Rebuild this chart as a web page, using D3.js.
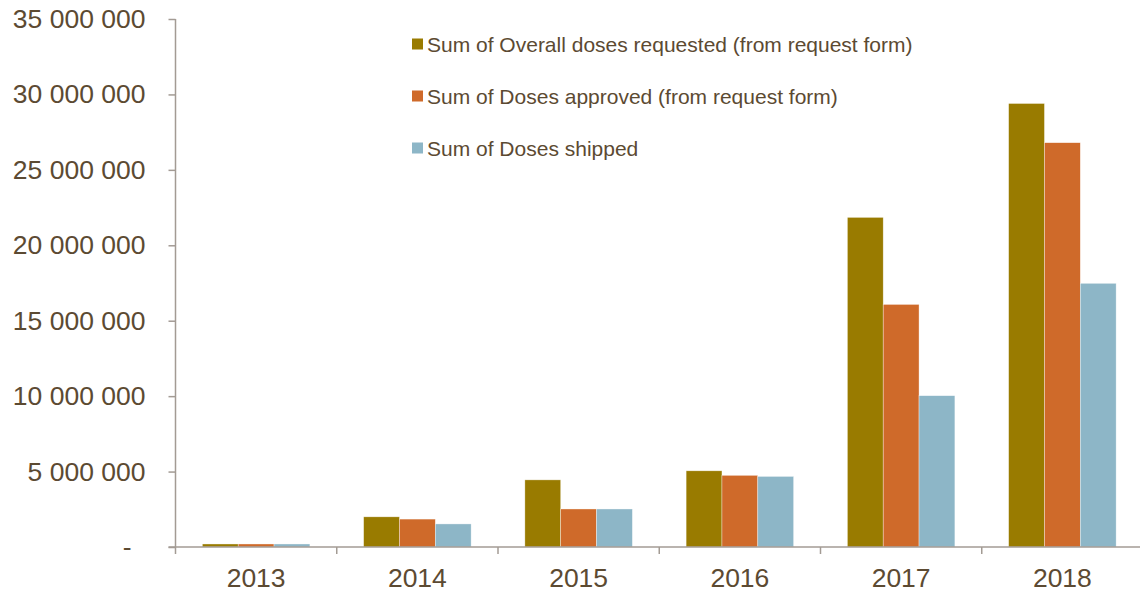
<!DOCTYPE html>
<html>
<head>
<meta charset="utf-8">
<script src="https://cdn.jsdelivr.net/npm/d3@7"></script>
<style>
  body { margin: 0; background: #fff; }
  text { font-family: "Liberation Sans", Arial, sans-serif; fill: #5c4a32; }
</style>
</head>
<body>
<div id="chart"></div>
<script>
'use strict';

var years = ['2013', '2014', '2015', '2016', '2017', '2018'];
var seriesNames = [
    'Sum of Overall doses requested (from request form)',
    'Sum of Doses approved (from request form)',
    'Sum of Doses shipped'
];
var requested = [200000, 2000000, 4450000, 5050000, 21850000, 29400000];
var approved  = [200000, 1850000, 2520000, 4750000, 16080000, 26800000];
var shipped   = [200000, 1530000, 2520000, 4680000, 10030000, 17480000];
var yTicks = [0, 5000000, 10000000, 15000000, 20000000, 25000000, 30000000, 35000000];

var colors = ['#997b00', '#cf6a2a', '#8db6c7'];
var axisColor = '#a39b94';

var chart = {};
chart.w = 1140;
chart.h = 593;
chart.left = 175.5;
chart.right = 1143;
chart.top = 19;
chart.base = 547;

var svg = d3.select('#chart').append('svg')
    .attr('width', chart.w)
    .attr('height', chart.h);

var x0 = d3.scaleBand().domain(years).range([chart.left, chart.right]).padding(0);
var x1 = d3.scaleBand().domain([0, 1, 2]).range([0, x0.bandwidth()])
    .paddingInner(0).paddingOuter(0.75);
var y = d3.scaleLinear().domain([0, 35000000]).range([chart.base, chart.top]);

var loc = d3.formatLocale({decimal: '.', thousands: ' ', grouping: [3], currency: ['', '']});
var fmt = loc.format(',');

// bars
var rows = years.map(function (yr, i) {
    return {year: yr, vals: [requested[i], approved[i], shipped[i]]};
});

var groups = svg.append('g').selectAll('g')
    .data(rows)
    .enter()
    .append('g')
    .attr('transform', function (d) { return 'translate(' + x0(d.year) + ',0)'; });

groups.selectAll('rect')
    .data(function (d) { return d.vals.map(function (v, k) { return {k: k, v: v}; }); })
    .enter()
    .append('rect')
    .attr('x', function (d) { return x1(d.k); })
    .attr('y', function (d) { return y(d.v); })
    .attr('width', x1.bandwidth())
    .attr('height', function (d) { return chart.base - y(d.v); })
    .attr('fill', function (d) { return colors[d.k]; })
    .attr('stroke', '#fff')
    .attr('stroke-opacity', 0.6)
    .attr('stroke-width', 0.6);

// y axis
var yAxis = d3.axisLeft(y).tickValues(yTicks).tickSize(7).tickPadding(23)
    .tickFormat(function (d) { return d === 0 ? '-' : fmt(d); });
var yg = svg.append('g')
    .attr('transform', 'translate(' + chart.left + ',0)')
    .call(yAxis);
yg.select('.domain').remove();
yg.selectAll('line').attr('stroke', axisColor).attr('stroke-width', 1.5);
yg.selectAll('text').attr('font-size', '26.5px').style('fill', '#5c4a32');
// the zero label sits further left, like the accounting format's dash
yg.selectAll('text').filter(function (d) { return d === 0; }).attr('dx', -14);
svg.append('line')
    .attr('x1', chart.left).attr('x2', chart.left)
    .attr('y1', chart.top).attr('y2', chart.base + 7)
    .attr('stroke', axisColor).attr('stroke-width', 1.5);

// x axis
svg.append('line')
    .attr('x1', chart.left - 7).attr('x2', chart.right)
    .attr('y1', chart.base).attr('y2', chart.base)
    .attr('stroke', axisColor).attr('stroke-width', 1.5);
svg.append('g').selectAll('line')
    .data(years.slice(1))
    .enter()
    .append('line')
    .attr('x1', function (d) { return x0(d); })
    .attr('x2', function (d) { return x0(d); })
    .attr('y1', chart.base).attr('y2', chart.base + 7)
    .attr('stroke', axisColor).attr('stroke-width', 1.5);
svg.append('g').selectAll('text')
    .data(years)
    .enter()
    .append('text')
    .attr('x', function (d) { return x0(d) + x0.bandwidth() / 2; })
    .attr('y', 587)
    .attr('text-anchor', 'middle')
    .attr('font-size', '26.5px')
    .text(function (d) { return d; });

// legend
var legend = svg.append('g').attr('transform', 'translate(412,44)');
var items = legend.selectAll('g')
    .data(seriesNames)
    .enter()
    .append('g')
    .attr('transform', function (d, i) { return 'translate(0,' + (i * 52) + ')'; });
items.append('rect')
    .attr('x', 0).attr('y', -5.5)
    .attr('width', 11).attr('height', 11)
    .attr('fill', function (d, i) { return colors[i]; });
items.append('text')
    .attr('x', 15).attr('y', 7.5)
    .attr('font-size', '21px')
    .text(function (d) { return d; });
</script>
</body>
</html>
